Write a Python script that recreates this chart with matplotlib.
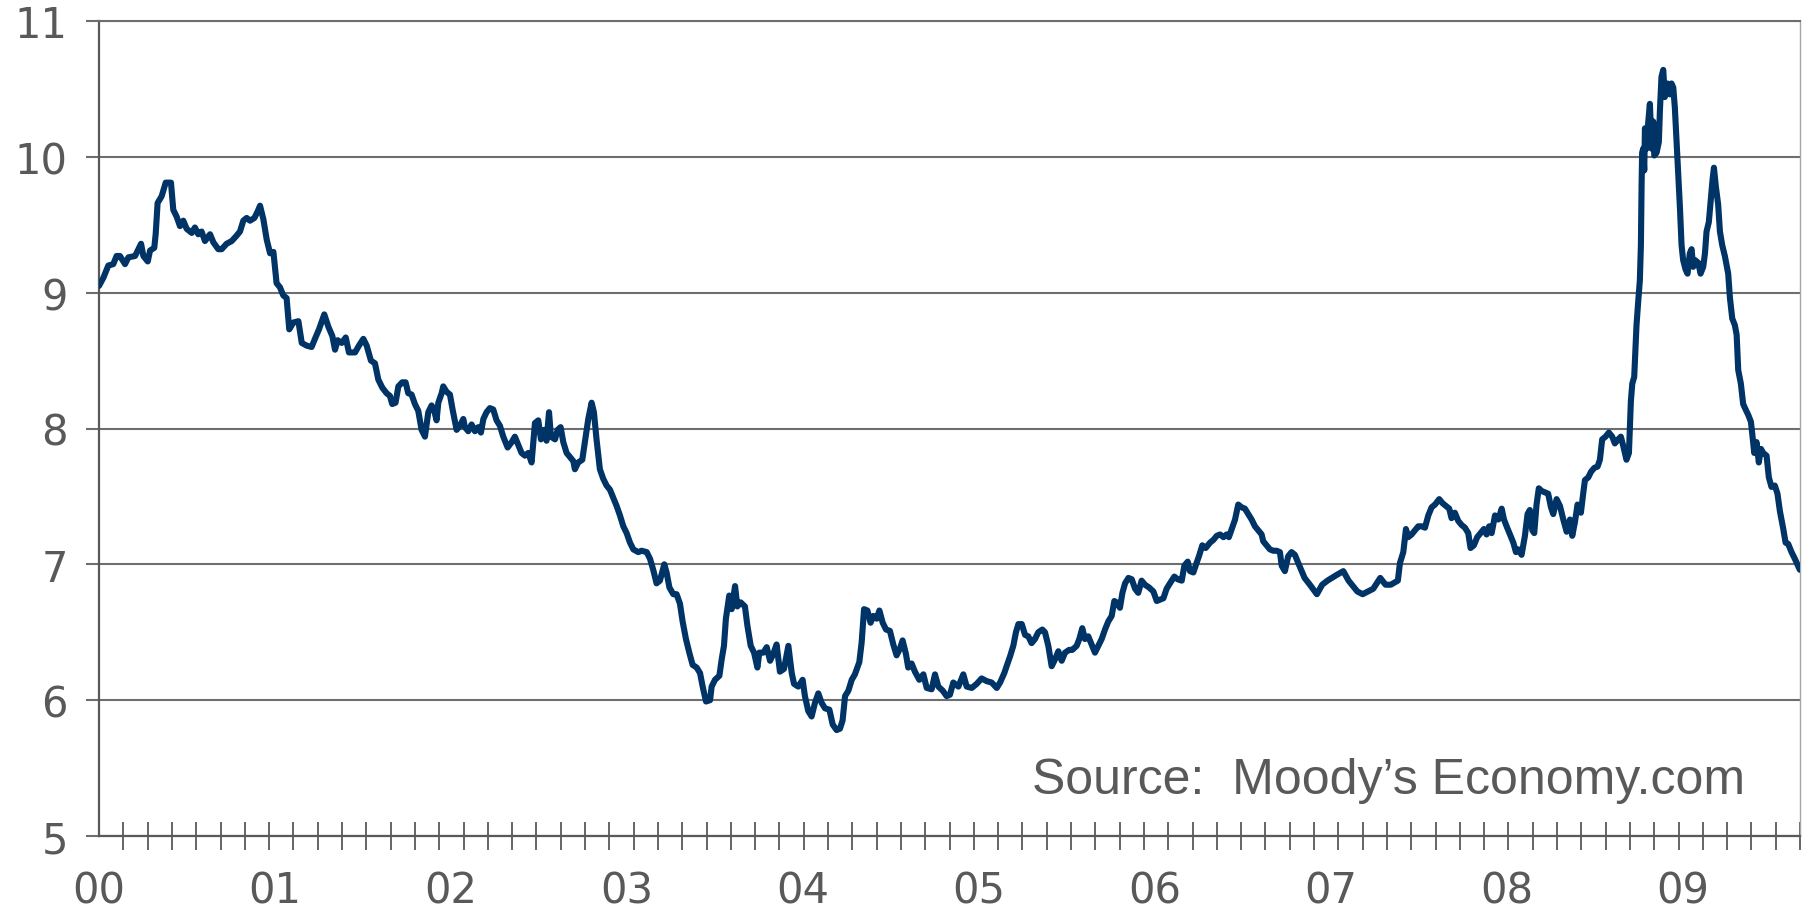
import matplotlib
matplotlib.use("Agg")
import matplotlib.pyplot as plt
import numpy as np

# weekly-ish readings, decimal years (2000 = Jan 2000)
dates = [
    2000.000, 2000.025, 2000.053, 2000.081, 2000.100, 2000.119, 2000.148, 2000.167, 2000.205, 2000.239,
    2000.252, 2000.277, 2000.290, 2000.314, 2000.322, 2000.333, 2000.356, 2000.379, 2000.409, 2000.422,
    2000.441, 2000.460, 2000.479, 2000.498, 2000.527, 2000.545, 2000.564, 2000.583, 2000.602, 2000.631,
    2000.650, 2000.678, 2000.697, 2000.725, 2000.754, 2000.782, 2000.801, 2000.820, 2000.839, 2000.858,
    2000.883, 2000.902, 2000.915, 2000.934, 2000.953, 2000.972, 2000.991, 2001.009, 2001.028, 2001.047,
    2001.066, 2001.081, 2001.104, 2001.133, 2001.152, 2001.180, 2001.208, 2001.227, 2001.250, 2001.280,
    2001.303, 2001.326, 2001.341, 2001.356, 2001.379, 2001.402, 2001.420, 2001.455, 2001.477, 2001.502,
    2001.521, 2001.545, 2001.568, 2001.587, 2001.610, 2001.634, 2001.653, 2001.666, 2001.685, 2001.701,
    2001.723, 2001.742, 2001.757, 2001.776, 2001.795, 2001.814, 2001.833, 2001.852, 2001.871, 2001.890,
    2001.905, 2001.918, 2001.928, 2001.947, 2001.956, 2001.975, 2001.994, 2002.009, 2002.032, 2002.051,
    2002.070, 2002.079, 2002.098, 2002.117, 2002.136, 2002.155, 2002.170, 2002.184, 2002.202, 2002.221,
    2002.240, 2002.259, 2002.278, 2002.297, 2002.322, 2002.345, 2002.363, 2002.382, 2002.401, 2002.420,
    2002.439, 2002.458, 2002.477, 2002.496, 2002.511, 2002.530, 2002.543, 2002.557, 2002.568, 2002.591,
    2002.606, 2002.623, 2002.638, 2002.657, 2002.676, 2002.695, 2002.704, 2002.723, 2002.746, 2002.761,
    2002.780, 2002.799, 2002.812, 2002.827, 2002.846, 2002.865, 2002.884, 2002.903, 2002.922, 2002.941,
    2002.960, 2002.979, 2002.998, 2003.017, 2003.036, 2003.064, 2003.083, 2003.112, 2003.131, 2003.149,
    2003.168, 2003.187, 2003.212, 2003.225, 2003.241, 2003.263, 2003.282, 2003.301, 2003.316, 2003.335,
    2003.354, 2003.373, 2003.396, 2003.415, 2003.430, 2003.449, 2003.472, 2003.481, 2003.500, 2003.525,
    2003.538, 2003.551, 2003.562, 2003.581, 2003.595, 2003.614, 2003.627, 2003.646, 2003.670, 2003.684,
    2003.703, 2003.722, 2003.741, 2003.752, 2003.775, 2003.794, 2003.813, 2003.831, 2003.850, 2003.869,
    2003.892, 2003.917, 2003.936, 2003.949, 2003.973, 2003.998, 2004.011, 2004.030, 2004.049, 2004.068,
    2004.087, 2004.106, 2004.125, 2004.150, 2004.169, 2004.191, 2004.210, 2004.225, 2004.239, 2004.258,
    2004.277, 2004.295, 2004.320, 2004.333, 2004.347, 2004.366, 2004.384, 2004.400, 2004.419, 2004.434,
    2004.453, 2004.472, 2004.494, 2004.513, 2004.532, 2004.551, 2004.566, 2004.585, 2004.598, 2004.617,
    2004.636, 2004.661, 2004.684, 2004.703, 2004.731, 2004.750, 2004.769, 2004.794, 2004.816, 2004.835,
    2004.854, 2004.883, 2004.911, 2004.930, 2004.959, 2004.987, 2005.015, 2005.044, 2005.072, 2005.101,
    2005.120, 2005.144, 2005.157, 2005.176, 2005.195, 2005.210, 2005.224, 2005.243, 2005.262, 2005.280,
    2005.299, 2005.318, 2005.337, 2005.360, 2005.375, 2005.394, 2005.413, 2005.432, 2005.451, 2005.470,
    2005.489, 2005.512, 2005.530, 2005.555, 2005.570, 2005.587, 2005.602, 2005.621, 2005.640, 2005.659,
    2005.678, 2005.697, 2005.716, 2005.735, 2005.754, 2005.769, 2005.782, 2005.801, 2005.815, 2005.830,
    2005.849, 2005.868, 2005.887, 2005.905, 2005.924, 2005.943, 2005.966, 2005.991, 2006.010, 2006.029,
    2006.048, 2006.066, 2006.085, 2006.110, 2006.129, 2006.152, 2006.167, 2006.186, 2006.199, 2006.218,
    2006.231, 2006.250, 2006.269, 2006.288, 2006.313, 2006.332, 2006.351, 2006.370, 2006.389, 2006.407,
    2006.420, 2006.436, 2006.455, 2006.473, 2006.492, 2006.511, 2006.530, 2006.549, 2006.568, 2006.587,
    2006.606, 2006.615, 2006.634, 2006.653, 2006.672, 2006.691, 2006.710, 2006.720, 2006.738, 2006.757,
    2006.776, 2006.795, 2006.814, 2006.850, 2006.880, 2006.920, 2006.950, 2006.980, 2007.030, 2007.070,
    2007.100, 2007.150, 2007.180, 2007.210, 2007.240, 2007.280, 2007.310, 2007.340, 2007.380, 2007.392,
    2007.411, 2007.426, 2007.439, 2007.458, 2007.477, 2007.496, 2007.515, 2007.534, 2007.553, 2007.572,
    2007.591, 2007.615, 2007.634, 2007.653, 2007.672, 2007.685, 2007.704, 2007.723, 2007.742, 2007.761,
    2007.780, 2007.793, 2007.812, 2007.831, 2007.850, 2007.869, 2007.884, 2007.899, 2007.913, 2007.932,
    2007.951, 2007.970, 2007.983, 2007.998, 2008.017, 2008.036, 2008.051, 2008.064, 2008.083, 2008.102,
    2008.117, 2008.130, 2008.144, 2008.155, 2008.168, 2008.181, 2008.197, 2008.215, 2008.234, 2008.250,
    2008.263, 2008.282, 2008.301, 2008.320, 2008.339, 2008.358, 2008.371, 2008.386, 2008.401, 2008.420,
    2008.433, 2008.443, 2008.462, 2008.477, 2008.496, 2008.515, 2008.528, 2008.541, 2008.560, 2008.579,
    2008.598, 2008.613, 2008.632, 2008.647, 2008.661, 2008.679, 2008.693, 2008.704, 2008.712, 2008.723,
    2008.731, 2008.736, 2008.746, 2008.755, 2008.761, 2008.765, 2008.768, 2008.774, 2008.780, 2008.784,
    2008.793, 2008.803, 2008.812, 2008.822, 2008.831, 2008.837, 2008.850, 2008.863, 2008.869, 2008.878,
    2008.888, 2008.897, 2008.912, 2008.926, 2008.935, 2008.945, 2008.954, 2008.964, 2008.973, 2008.983,
    2008.992, 2009.001, 2009.015, 2009.026, 2009.039, 2009.049, 2009.058, 2009.068, 2009.087, 2009.100,
    2009.115, 2009.125, 2009.134, 2009.147, 2009.159, 2009.168, 2009.176, 2009.187, 2009.200, 2009.210,
    2009.223, 2009.238, 2009.257, 2009.267, 2009.280, 2009.295, 2009.305, 2009.314, 2009.329, 2009.342,
    2009.356, 2009.371, 2009.386, 2009.393, 2009.405, 2009.418, 2009.431, 2009.443, 2009.456, 2009.475,
    2009.488, 2009.503, 2009.522, 2009.537, 2009.551, 2009.570, 2009.583, 2009.598, 2009.617, 2009.636,
    2009.664,
]

rate = [
    9.05, 9.11, 9.20, 9.21, 9.27, 9.27, 9.21, 9.26, 9.27, 9.36,
    9.27, 9.23, 9.31, 9.33, 9.43, 9.66, 9.71, 9.81, 9.81, 9.61,
    9.56, 9.49, 9.53, 9.47, 9.44, 9.48, 9.43, 9.45, 9.38, 9.43,
    9.37, 9.32, 9.32, 9.36, 9.38, 9.42, 9.45, 9.53, 9.55, 9.53,
    9.55, 9.60, 9.64, 9.54, 9.39, 9.29, 9.30, 9.07, 9.04, 8.98,
    8.96, 8.73, 8.78, 8.79, 8.63, 8.61, 8.60, 8.66, 8.73, 8.84,
    8.75, 8.68, 8.58, 8.65, 8.63, 8.67, 8.56, 8.56, 8.61, 8.66,
    8.61, 8.50, 8.48, 8.36, 8.30, 8.26, 8.24, 8.18, 8.19, 8.31,
    8.34, 8.34, 8.26, 8.25, 8.18, 8.13, 7.99, 7.94, 8.12, 8.17,
    8.13, 8.06, 8.19, 8.26, 8.31, 8.27, 8.25, 8.14, 7.99, 8.02,
    8.07, 8.01, 7.98, 8.03, 7.98, 8.01, 7.97, 8.07, 8.12, 8.15,
    8.14, 8.06, 8.02, 7.94, 7.86, 7.90, 7.94, 7.88, 7.82, 7.80,
    7.82, 7.75, 8.04, 8.06, 7.92, 7.99, 7.91, 8.12, 7.94, 7.92,
    7.99, 8.01, 7.90, 7.82, 7.79, 7.76, 7.70, 7.75, 7.77, 7.90,
    8.07, 8.19, 8.12, 7.92, 7.70, 7.63, 7.58, 7.55, 7.49, 7.43,
    7.36, 7.28, 7.23, 7.16, 7.11, 7.09, 7.10, 7.09, 7.04, 6.96,
    6.86, 6.88, 7.00, 6.94, 6.83, 6.78, 6.78, 6.71, 6.58, 6.45,
    6.35, 6.26, 6.24, 6.20, 6.10, 5.99, 6.00, 6.10, 6.15, 6.18,
    6.30, 6.40, 6.60, 6.77, 6.67, 6.84, 6.69, 6.72, 6.69, 6.55,
    6.40, 6.35, 6.24, 6.35, 6.35, 6.39, 6.29, 6.34, 6.41, 6.21,
    6.23, 6.40, 6.20, 6.12, 6.10, 6.15, 6.03, 5.92, 5.88, 5.98,
    6.05, 5.98, 5.94, 5.93, 5.82, 5.78, 5.79, 5.85, 6.03, 6.07,
    6.15, 6.19, 6.28, 6.42, 6.67, 6.66, 6.57, 6.62, 6.60, 6.66,
    6.57, 6.52, 6.51, 6.41, 6.33, 6.38, 6.44, 6.34, 6.24, 6.27,
    6.21, 6.15, 6.19, 6.09, 6.08, 6.19, 6.10, 6.07, 6.03, 6.04,
    6.13, 6.10, 6.19, 6.10, 6.09, 6.12, 6.16, 6.14, 6.13, 6.09,
    6.13, 6.20, 6.25, 6.32, 6.40, 6.50, 6.56, 6.56, 6.48, 6.47,
    6.42, 6.45, 6.50, 6.52, 6.50, 6.40, 6.25, 6.30, 6.36, 6.29,
    6.35, 6.37, 6.37, 6.40, 6.45, 6.53, 6.45, 6.47, 6.41, 6.35,
    6.40, 6.45, 6.52, 6.58, 6.62, 6.73, 6.72, 6.68, 6.79, 6.86,
    6.90, 6.89, 6.82, 6.79, 6.88, 6.85, 6.83, 6.80, 6.73, 6.74,
    6.75, 6.82, 6.86, 6.91, 6.89, 6.88, 6.99, 7.02, 6.95, 6.94,
    6.99, 7.06, 7.14, 7.12, 7.16, 7.18, 7.21, 7.22, 7.20, 7.22,
    7.20, 7.26, 7.33, 7.44, 7.42, 7.41, 7.37, 7.33, 7.28, 7.25,
    7.22, 7.17, 7.14, 7.11, 7.10, 7.10, 7.09, 6.99, 6.95, 7.06,
    7.09, 7.07, 7.01, 6.90, 6.85, 6.78, 6.85, 6.88, 6.92, 6.95,
    6.88, 6.80, 6.78, 6.80, 6.82, 6.90, 6.85, 6.85, 6.88, 7.01,
    7.09, 7.26, 7.20, 7.22, 7.25, 7.28, 7.28, 7.27, 7.36, 7.42,
    7.44, 7.48, 7.45, 7.43, 7.41, 7.34, 7.38, 7.32, 7.29, 7.27,
    7.23, 7.12, 7.14, 7.20, 7.23, 7.26, 7.22, 7.28, 7.23, 7.36,
    7.33, 7.41, 7.33, 7.28, 7.22, 7.16, 7.09, 7.11, 7.07, 7.21,
    7.37, 7.40, 7.25, 7.23, 7.44, 7.56, 7.54, 7.53, 7.52, 7.42,
    7.37, 7.48, 7.43, 7.33, 7.24, 7.33, 7.21, 7.31, 7.44, 7.38,
    7.52, 7.62, 7.64, 7.68, 7.71, 7.72, 7.77, 7.92, 7.94, 7.97,
    7.94, 7.89, 7.92, 7.94, 7.87, 7.77, 7.82, 8.20, 8.33, 8.38,
    8.61, 8.76, 8.94, 9.09, 9.35, 9.80, 10.03, 10.06, 9.90, 10.21,
    10.06, 10.26, 10.39, 10.06, 10.26, 10.01, 10.03, 10.11, 10.34, 10.59,
    10.64, 10.44, 10.54, 10.46, 10.54, 10.51, 10.36, 10.11, 9.90, 9.62,
    9.35, 9.24, 9.17, 9.14, 9.29, 9.32, 9.19, 9.24, 9.22, 9.14,
    9.19, 9.29, 9.45, 9.52, 9.70, 9.83, 9.92, 9.78, 9.65, 9.45,
    9.35, 9.27, 9.14, 8.96, 8.81, 8.76, 8.69, 8.43, 8.33, 8.18,
    8.14, 8.10, 8.05, 7.97, 7.82, 7.90, 7.75, 7.85, 7.82, 7.80,
    7.64, 7.57, 7.58, 7.52, 7.39, 7.26, 7.16, 7.15, 7.09, 7.04,
    6.96,
]

year_labels = ["00", "01", "02", "03", "04", "05", "06", "07", "08", "09"]
y_ticks = [5, 6, 7, 8, 9, 10, 11]
source_note = "Source:  Moody\u2019s Economy.com"

LINE_COLOR = "#003366"
TEXT_COLOR = "#595959"
GRID_COLOR = "#6e6e6e"

x_end = 2009.665

fig = plt.figure(figsize=(18.1, 9.2), dpi=100)
ax = fig.add_axes([99 / 1810, 83 / 920, 1701 / 1810, 815 / 920])

ax.plot(dates, rate, color=LINE_COLOR, lw=4.4,
        solid_joinstyle="round", solid_capstyle="round", zorder=3)

ax.set_xlim(2000, x_end)
ax.set_ylim(5, 11)

# y axis: gridlines + short outward ticks
ax.set_yticks(y_ticks)
ax.set_yticklabels([str(v) for v in y_ticks])
ax.yaxis.grid(True, color=GRID_COLOR, lw=1.5, zorder=1)
ax.tick_params(axis="y", direction="out", length=9.5, width=1.5,
               color=GRID_COLOR, labelsize=30, labelcolor=TEXT_COLOR, pad=13)

# x axis: year labels, dense crossing tick marks
ax.set_xticks([2000 + i for i in range(len(year_labels))])
ax.set_xticklabels(year_labels)
ax.set_xticks(np.linspace(2000, x_end, 71), minor=True)
ax.tick_params(axis="x", which="major", length=0, labelsize=30,
               labelcolor=TEXT_COLOR, pad=24)
ax.tick_params(axis="x", which="minor", direction="inout", length=20,
               width=1.3, color=TEXT_COLOR)

for side in ["left", "bottom"]:
    ax.spines[side].set_color(TEXT_COLOR)
    ax.spines[side].set_linewidth(1.6)
ax.spines["top"].set_color(GRID_COLOR)
ax.spines["top"].set_linewidth(1.5)
ax.spines["right"].set_color("#a6a6a6")
ax.spines["right"].set_linewidth(1.0)

ax.text(0.9677, 0.0528, source_note, transform=ax.transAxes,
        ha="right", va="baseline", fontsize=36, color=TEXT_COLOR,
        family=["Liberation Sans", "DejaVu Sans"])

fig.savefig("out.png", dpi=100)
